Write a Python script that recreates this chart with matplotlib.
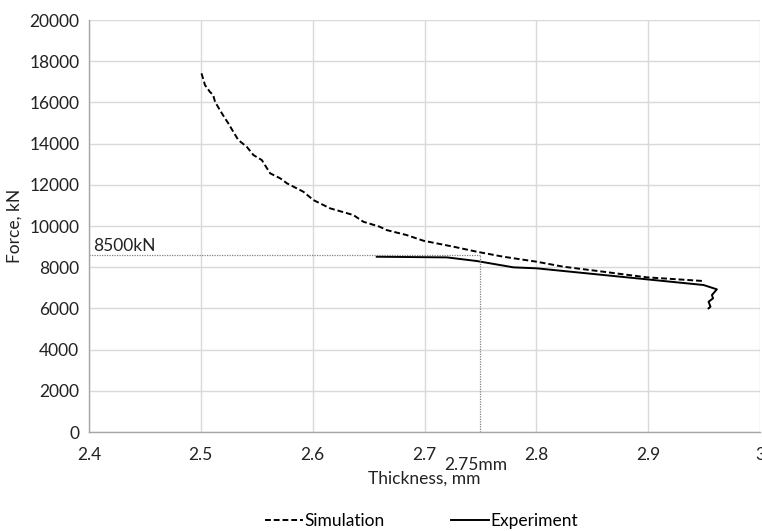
import matplotlib
matplotlib.use("Agg")
import matplotlib.pyplot as plt

plt.rcParams['font.family'] = ['Lato', 'DejaVu Sans']

sim_x = [2.5006, 2.5037, 2.508, 2.511, 2.5127, 2.517, 2.5216, 2.5246, 2.529, 2.5335, 2.541,
         2.547, 2.5545, 2.562, 2.571, 2.577, 2.5917, 2.6006, 2.6156, 2.6364, 2.6453, 2.660,
         2.666, 2.684, 2.699, 2.726, 2.7468, 2.7706, 2.8004, 2.8243, 2.860, 2.8988, 2.9495]
sim_y = [17411, 16843, 16520, 16358, 16033, 15630, 15227, 14984, 14577, 14174, 13850,
         13446, 13203, 12557, 12315, 12072, 11664, 11261, 10858, 10533, 10208, 9965,
         9805, 9562, 9286, 8995, 8752, 8509, 8266, 8024, 7781, 7509, 7330]

exp_x = [2.6573, 2.720, 2.7468, 2.7795, 2.8004, 2.8988, 2.9495, 2.9614, 2.957, 2.958, 2.954, 2.9557, 2.954]
exp_y = [8509, 8478, 8300, 7994, 7946, 7412, 7136, 6927, 6650, 6489, 6325, 6082, 6004]

ref_force = 8600
ref_thick = 2.75
ref_force_label = "8500kN"
ref_thick_label = "2.75mm"

xticks = [2.4, 2.5, 2.6, 2.7, 2.8, 2.9, 3.0]
xticklabels = ["2.4", "2.5", "2.6", "2.7", "2.8", "2.9", "3"]
yticks = list(range(0, 20001, 2000))

FS = 12.5

fig = plt.figure(figsize=(7.62, 5.31), dpi=100)
ax = fig.add_axes([0.1168, 0.1864, 0.8806, 0.7759])

ax.plot(sim_x, sim_y, color='black', lw=1.4, linestyle=(0, (3, 1.5)), label='Simulation')
ax.plot(exp_x, exp_y, color='black', lw=1.4, linestyle='-', label='Experiment')

ax.plot([2.4, ref_thick], [ref_force, ref_force], color='#808080', lw=0.9, linestyle=(0, (1, 1)))
ax.plot([ref_thick, ref_thick], [0, ref_force], color='#808080', lw=0.9, linestyle=(0, (1, 1)))
ax.text(2.404, ref_force + 60, ref_force_label, fontsize=FS, ha='left', va='bottom', color='#222222')
ax.text(ref_thick - 0.004, -1200, ref_thick_label, fontsize=FS, ha='center', va='top', color='#222222')

ax.set_xlim(2.4, 3.0)
ax.set_ylim(0, 20000)
ax.set_xticks(xticks)
ax.set_xticklabels(xticklabels)
ax.set_yticks(yticks)
ax.tick_params(axis='both', length=0, labelsize=FS, colors='#222222')
ax.tick_params(axis='x', pad=11)
ax.tick_params(axis='y', pad=7)
ax.grid(True, color='#d9d9d9', lw=1)
ax.set_axisbelow(True)
for s in ['top', 'right']:
    ax.spines[s].set_visible(False)
for s in ['left', 'bottom']:
    ax.spines[s].set_color('#a6a6a6')
    ax.spines[s].set_linewidth(1)

ax.set_xlabel("Thickness, mm", fontsize=FS, color='#222222', labelpad=5)
ax.set_ylabel("Force, kN", fontsize=FS, color='#222222', labelpad=5)

fig.legend(loc='lower center', bbox_to_anchor=(0.553, -0.025), ncol=2, frameon=False,
           fontsize=FS, handlelength=2.2, handletextpad=0.1, columnspacing=3.8)

fig.savefig("out.png", dpi=100)
